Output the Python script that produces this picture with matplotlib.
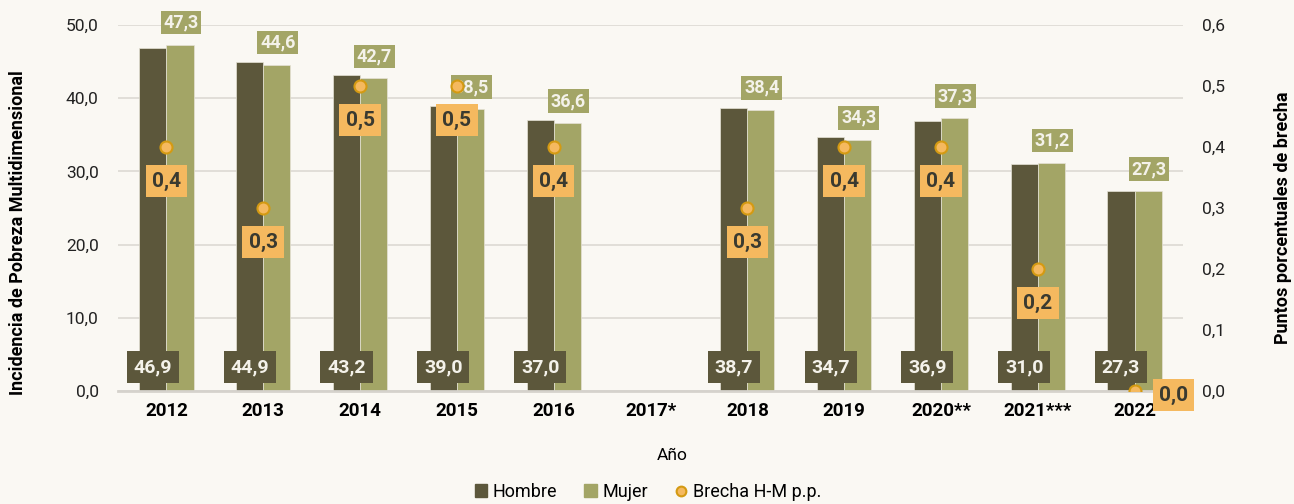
import matplotlib
matplotlib.use("Agg")
import matplotlib.pyplot as plt
import numpy as np
from matplotlib.lines import Line2D
from matplotlib.patches import Patch

plt.rcParams["font.family"] = ["Roboto", "DejaVu Sans"]

years = ["2012", "2013", "2014", "2015", "2016", "2017*", "2018", "2019",
         "2020**", "2021***", "2022"]
hombre = [46.9, 44.9, 43.2, 39.0, 37.0, None, 38.7, 34.7, 36.9, 31.0, 27.3]
mujer = [47.3, 44.6, 42.7, 38.5, 36.6, None, 38.4, 34.3, 37.3, 31.2, 27.3]
brecha = [0.4, 0.3, 0.5, 0.5, 0.4, None, 0.3, 0.4, 0.4, 0.2, 0.0]

BG = "#faf8f3"
C_H = "#5c573b"
C_M = "#a3a566"
C_B = "#f5b95f"
C_BE = "#d49a12"
TXT = "#3a3a30"
WHITE = "#f4f2ea"

W, H = 1294, 504
fig = plt.figure(figsize=(W / 100, H / 100), dpi=100, facecolor=BG)
ax = fig.add_axes([118 / W, (H - 391) / H, (1183 - 118) / W, (391 - 25) / H])
ax.set_facecolor(BG)
ax2 = ax.twinx()

x = np.arange(len(years))
bw = 0.28

for i in x:
    if hombre[i] is None:
        continue
    ax.bar(i - bw / 2, hombre[i], bw, color=C_H, edgecolor="#e5e2d6", linewidth=0.5, zorder=2)
    ax.bar(i + bw / 2, mujer[i], bw, color=C_M, edgecolor="#e5e2d6", linewidth=0.5, zorder=2)
    ax.annotate(f"{hombre[i]:.1f}".replace(".", ","), (i - bw / 2, 0), xytext=(0, 24),
                textcoords="offset pixels", ha="center", va="center", fontsize=14,
                fontweight="bold", color=WHITE, zorder=5,
                bbox=dict(boxstyle="square,pad=0.35", fc=C_H, ec="none"))
    ax.annotate(f"{mujer[i]:.1f}".replace(".", ","), (i + bw / 2, mujer[i]), xytext=(1, 22),
                textcoords="offset pixels", ha="center", va="center", fontsize=13,
                fontweight="bold", color=WHITE, zorder=5,
                bbox=dict(boxstyle="square,pad=0.15", fc=C_M, ec="none"))

ax.set_xlim(-0.5, len(years) - 0.5)
ax.set_ylim(0, 50)
ax.set_yticks(np.arange(0, 51, 10))
ax.set_yticklabels([f"{v:.1f}".replace(".", ",") for v in np.arange(0, 51, 10)])
ax.set_xticks(x)
ax.set_xticklabels(years, fontsize=13.5, fontweight="bold")
ax.grid(axis="y", color="#dcd9d3", linewidth=1.2, zorder=0)
ax.set_axisbelow(True)
ax.tick_params(axis="y", length=0, labelsize=12.5, pad=14, colors="#222222")
ax.tick_params(axis="x", length=0, pad=8)
for s in ["top", "right", "left"]:
    ax.spines[s].set_visible(False)
ax.spines["bottom"].set_color("#d5d2cc")
ax.spines["bottom"].set_linewidth(2)
ax.spines["bottom"].set_zorder(3)

bx = [i for i in x if brecha[i] is not None]
by = [brecha[i] for i in bx]
ax2.scatter(bx, by, s=75, color=C_B, edgecolor=C_BE, linewidth=1.5, zorder=6)
for i, v in zip(bx, by):
    off = (39, -4) if v == 0 else (0, -34)
    ax2.annotate(f"{v:.1f}".replace(".", ","), (i, v), xytext=off,
                 textcoords="offset pixels", ha="center", va="center", fontsize=15,
                 fontweight="bold", color=TXT, zorder=7,
                 bbox=dict(boxstyle="square,pad=0.3", fc=C_B, ec="none"))
ax2.set_ylim(0, 0.6)
ax2.set_yticks(np.arange(0, 0.61, 0.1))
ax2.set_yticklabels([f"{v:.1f}".replace(".", ",") for v in np.arange(0, 0.61, 0.1)])
ax2.tick_params(axis="y", length=0, labelsize=12.5, pad=14, colors="#222222")
for s in ["top", "right", "left", "bottom"]:
    ax2.spines[s].set_visible(False)

fig.text(18 / W, 1 - 233 / H, "Incidencia de Pobreza Multidimensional", rotation=90,
         ha="center", va="center", fontsize=13, fontweight="bold")
fig.text(1283 / W, 1 - 218 / H, "Puntos porcentuales de brecha", rotation=90,
         ha="center", va="center", fontsize=13, fontweight="bold")
fig.text(672 / W, 1 - 455 / H, "Año", ha="center", va="center", fontsize=12.5)

handles = [
    Patch(color=C_H, label="Hombre"),
    Patch(color=C_M, label="Mujer"),
    Line2D([], [], marker="o", linestyle="none", markersize=7, markerfacecolor=C_B,
           markeredgecolor=C_BE, markeredgewidth=1.5, label="Brecha H-M p.p."),
]
fig.legend(handles=handles, loc="center", bbox_to_anchor=(648 / W, 1 - 492 / H), ncol=3,
           frameon=False, fontsize=13, handlelength=0.7, handleheight=0.7,
           handletextpad=0.3, columnspacing=1.5)

fig.savefig("out.png", dpi=100, facecolor=BG)
